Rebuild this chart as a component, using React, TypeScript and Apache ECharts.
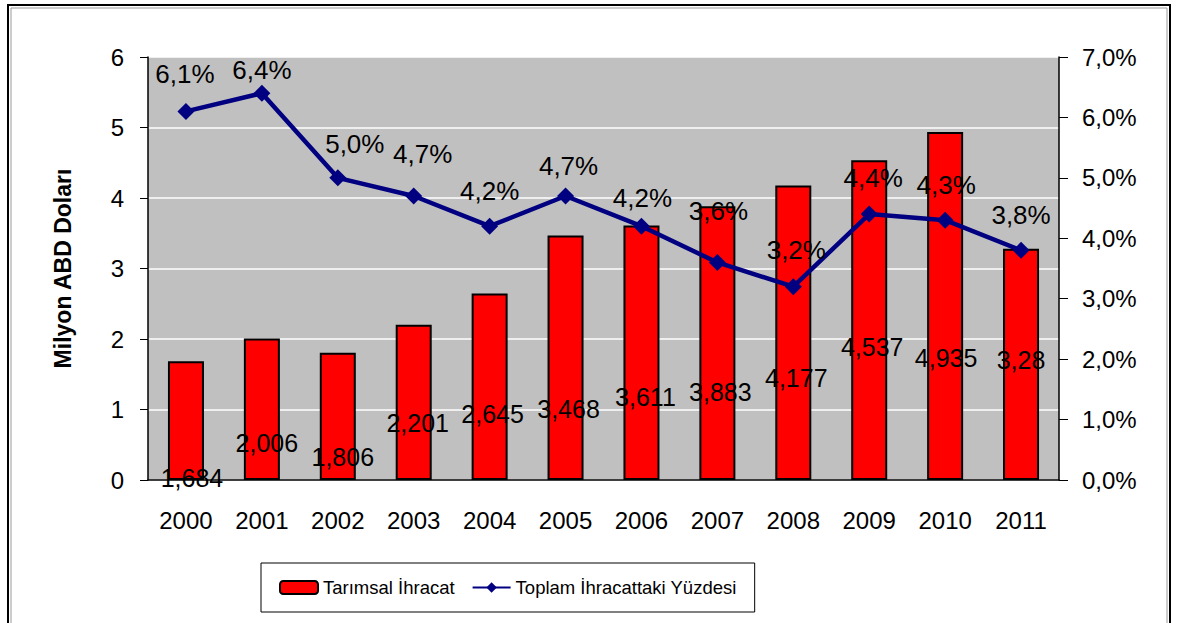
import React, { useEffect, useRef } from "react";
import * as echarts from "echarts";

const years = ["2000", "2001", "2002", "2003", "2004", "2005", "2006", "2007", "2008", "2009", "2010", "2011"];
const exportValues = [1.684, 2.006, 1.806, 2.201, 2.645, 3.468, 3.611, 3.883, 4.177, 4.537, 4.935, 3.28];
const sharePercent = [6.1, 6.4, 5.0, 4.7, 4.2, 4.7, 4.2, 3.6, 3.2, 4.4, 4.3, 3.8];
const leftTicks = { min: 0, max: 6, interval: 1 };
const rightTicks = { min: 0, max: 7, interval: 1 };

// label placement styling (pixel offsets)
const barLabelOffsets = [[6, 10], [5, -25], [5, -11], [4, -45], [3, -54], [3, -59], [4, -71], [3, -76], [3, -90], [3, -121], [1, -110], [0, -108]];
const lineLabelOffsets = [[-1, -1], [0, 13], [17, 3], [9, -5], [0, 1], [3, 7], [1, 8], [1, -15], [3, 0], [4, 0], [1, 1], [0, 1]];

const FONT = "'Liberation Sans', Arial, sans-serif";
const comma = (v: number) => String(v).replace(".", ",");

export default function App() {
  const ref = useRef<HTMLDivElement>(null);
  useEffect(() => {
    if (!ref.current) return;
    const chart = echarts.init(ref.current, null, { renderer: "svg" });
    chart.setOption({
      animation: false,
      backgroundColor: "#ffffff",
      textStyle: { fontFamily: FONT },
      graphic: [
        { type: "rect", shape: { x: 8, y: 5, width: 1162, height: 640 }, style: { fill: "none", stroke: "#000", lineWidth: 2 }, silent: true },
        { type: "rect", shape: { x: 11, y: 8, width: 1156, height: 640 }, style: { fill: "none", stroke: "#9a9a9a", lineWidth: 1 }, silent: true },
      ],
      grid: {
        left: 148, right: 118, top: 57, bottom: 143,
        show: true, backgroundColor: "#c0c0c0", borderWidth: 0,
      },
      legend: {
        left: 261, top: 563,
        padding: [15, 18, 15, 18],
        borderColor: "#000", borderWidth: 1,
        itemWidth: 38, itemHeight: 13, itemGap: 17,
        textStyle: { fontSize: 18.5, color: "#000", fontFamily: FONT },
        data: ["Tarımsal İhracat", "Toplam İhracattaki Yüzdesi"],
      },
      xAxis: {
        type: "category",
        data: years,
        axisLine: { lineStyle: { color: "#000", width: 1.5 } },
        axisTick: { length: 8, lineStyle: { color: "#000" } },
        axisLabel: { fontSize: 24, color: "#000", margin: 28, fontFamily: FONT },
      },
      yAxis: [
        {
          type: "value", ...leftTicks, position: "left",
          name: "Milyon ABD Doları", nameLocation: "middle", nameGap: 74,
          nameTextStyle: { fontSize: 23, fontWeight: "bold", color: "#000", fontFamily: FONT },
          axisLine: { show: true, lineStyle: { color: "#000", width: 1.5 } },
          axisTick: { show: true, length: 8, lineStyle: { color: "#000" } },
          axisLabel: { fontSize: 24, color: "#000", margin: 24, fontFamily: FONT },
          splitLine: { show: true, lineStyle: { color: "#ffffff", width: 1.5 } },
        },
        {
          type: "value", ...rightTicks, position: "right",
          axisLine: { show: true, lineStyle: { color: "#000", width: 1.5 } },
          axisTick: { show: true, length: 9, lineStyle: { color: "#000" } },
          axisLabel: { fontSize: 24, color: "#000", margin: 23, fontFamily: FONT, formatter: (v: number) => v.toFixed(1).replace(".", ",") + "%" },
          splitLine: { show: false },
        },
      ],
      series: [
        {
          name: "Tarımsal İhracat",
          type: "bar",
          yAxisIndex: 0,
          barWidth: 36,
          itemStyle: { color: "#ff0000", borderColor: "#000", borderWidth: 2 },
          data: exportValues.map((v, i) => ({
            value: v,
            label: {
              show: true, position: "insideBottom", distance: 0,
              offset: barLabelOffsets[i],
              formatter: () => comma(v),
              fontSize: 25, color: "#000", fontFamily: FONT,
            },
          })),
          z: 2,
        },
        {
          name: "Toplam İhracattaki Yüzdesi",
          type: "line",
          yAxisIndex: 1,
          symbol: "diamond",
          symbolSize: 17,
          lineStyle: { color: "#000080", width: 4.5 },
          itemStyle: { color: "#000080" },
          data: sharePercent.map((v, i) => ({
            value: v,
            label: {
              show: true, position: "top", distance: 15,
              offset: lineLabelOffsets[i],
              formatter: () => v.toFixed(1).replace(".", ",") + "%",
              fontSize: 26, color: "#000", fontFamily: FONT,
            },
          })),
          z: 3,
        },
      ],
    });
    return () => chart.dispose();
  }, []);
  return <div ref={ref} style={{ position: "fixed", left: 0, top: 0, width: 1177, height: 623 }} />;
}
